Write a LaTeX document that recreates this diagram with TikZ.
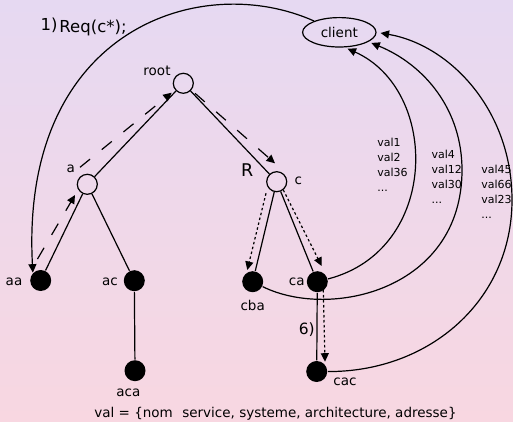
\documentclass[tikz,border=0pt]{standalone}
\usepackage{fontspec}
\setmainfont{DejaVu Sans}
\usetikzlibrary{arrows.meta,calc,shapes.geometric}
\definecolor{bgtop}{RGB}{230,217,242}
\definecolor{bgbot}{RGB}{248,215,225}

\begin{document}
\begin{tikzpicture}[x=1pt,y=-1pt,line width=1.2pt,
  hollow/.style={circle,draw,minimum size=20pt,inner sep=0pt},
  leaf/.style={circle,fill=black,minimum size=21pt,inner sep=0pt},
  lbl/.style={font=\fontsize{13.5}{16}\selectfont,inner sep=0pt},
  vallbl/.style={font=\fontsize{11}{13}\selectfont,inner sep=0pt,anchor=base west},
  tipend/.style={-{Triangle[length=8.5pt,width=8pt]}},
  dasharrow/.style={tipend,dash pattern=on 13pt off 15pt},
  dotarrow/.style={tipend,dash pattern=on 2.5pt off 2.5pt}]

% background
\shade[top color=bgtop,bottom color=bgbot] (0,0) rectangle (513,422);
\useasboundingbox (0,0) rectangle (513,422);

% tree nodes
\node[hollow] (root) at (183.3,83.3) {};
\node[hollow] (a)    at (87.3,184.3) {};
\node[hollow] (c)    at (276.7,181.7) {};
\node[leaf] (aa)  at (40.7,280.5) {};
\node[leaf] (ac)  at (134.3,280.7) {};
\node[leaf] (aca) at (135,370.7) {};
\node[leaf] (cba) at (252.7,281.7) {};
\node[leaf] (ca)  at (317.3,281.7) {};
\node[leaf] (cac) at (316.7,371.5) {};

\node[ellipse,draw,minimum width=73.4pt,minimum height=29.4pt,lbl] (client) at (339.3,32.3) {client};

% node labels
\node[lbl] (lroot) at (157,71) {root};
\node[lbl] (la)    at (70.7,169) {a};
\node[lbl] (lc)    at (298.3,180.7) {c};
\node[lbl] (laa)   at (14,281.7) {aa};
\node[lbl] (lac)   at (110,281.7) {ac};
\node[lbl] (laca)  at (128.3,393.3) {aca};
\node[lbl] (lcba)  at (252.7,305) {cba};
\node[lbl] (lca)   at (296.7,281.7) {ca};
\node[lbl] (lcac)  at (345,381.7) {cac};
\node[font=\fontsize{17.5}{20}\selectfont,inner sep=0pt] (lR) at (247.3,170) {R};
\node[font=\fontsize{15.5}{18}\selectfont,inner sep=0pt] (lsix) at (306.7,330) {6)};
\node[font=\fontsize{16.5}{19}\selectfont,inner sep=0pt] (lone) at (49,25) {1)};
\node[font=\fontsize{16.5}{19}\selectfont,inner sep=0pt] (lreq) at (93,27.5) {Req(c*);};

% value lists
\foreach \t [count=\i] in {val1,val2,val36}
  \node[vallbl] (va\i) at (376.7,131.3+15*\i) {\t};
\node[vallbl] (va4) at (376.7,191.3) {...};
\foreach \t [count=\i] in {val4,val12,val30}
  \node[vallbl] (vb\i) at (431,143+15*\i) {\t};
\node[vallbl] (vb4) at (431,203) {...};
\foreach \t [count=\i] in {val45,val66,val23}
  \node[vallbl] (vc\i) at (480.7,158+15*\i) {\t};
\node[vallbl] (vc4) at (480.7,218) {...};

\node[lbl] (legend) at (275.5,414) {val = \{nom\hspace{0.7em}service, systeme, architecture, adresse\}};

% tree edges
\draw (root) -- (a);
\draw (root) -- (c);
\draw (a) -- (aa);
\draw (a) -- (ac);
\draw (ac) -- (aca);
\draw (c) -- (cba);
\draw (c) -- (ca);
\draw (ca) -- (cac);

% request path
\draw[dasharrow] ($(aa)+(-3.2,-21.5)$) -- ($(a)+(-12.3,10.7)$);
\draw[dasharrow] ($(a)+(-7.3,-17)$) -- ($(root)+(-11.6,9.4)$);
\draw[dasharrow] ($(root)+(11.7,10)$) -- ($(c)+(-1.7,-18.4)$);

% lookup path
\draw[dotarrow] ($(c)+(-10.7,11.6)$) -- ($(cba)+(-5.4,-11.7)$);
\draw[dotarrow] ($(c)+(6.6,8.3)$) -- ($(ca)+(4.4,-15.7)$);
\draw[dotarrow] ($(ca)+(6,8.3)$) -- ($(cac)+(8.3,-9.8)$);

% request from the client
\draw[tipend] (client) .. controls (200,-30) and (20,30) .. (aa.135);

% answers back to the client
\draw[tipend,shorten >=3pt] (ca) .. controls (440,250) and (440,90) .. (client.-70);
\draw[tipend,shorten >=3pt] (cba) .. controls (330,320) and (462,290) .. (462,170)
  .. controls (462,110) and (425,65) .. (client.-18);
\draw[tipend,shorten >=4pt] (cac) .. controls (430,372) and (512,300) .. (512,200)
  .. controls (512,110) and (450,45) .. (client.east);
\end{tikzpicture}
\end{document}
